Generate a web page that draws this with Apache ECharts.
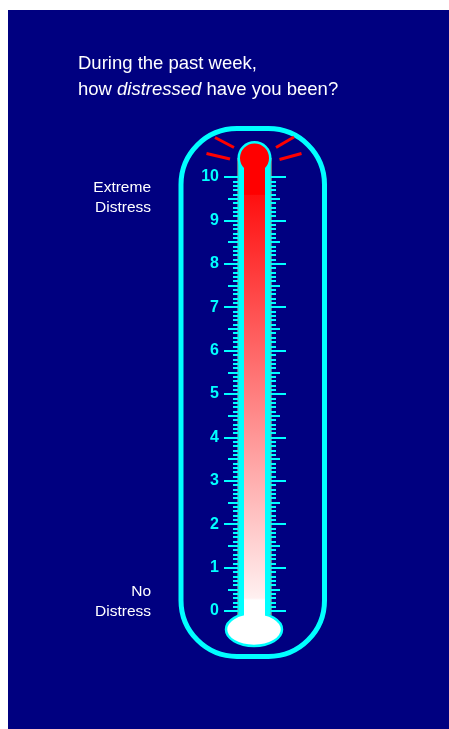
<!DOCTYPE html>
<html>
<head>
<meta charset="utf-8">
<script src="https://cdn.jsdelivr.net/npm/echarts@6/dist/echarts.min.js"></script>
<style>
  html, body { margin: 0; padding: 0; background: #fff; }
  #panel { position: absolute; left: 8px; top: 10px; width: 441px; height: 719px; background: #000080; }
  #chart { position: absolute; left: 0; top: 0; width: 449px; height: 729px; }
</style>
</head>
<body>
<div id="panel"></div>
<div id="chart"></div>
<script>
  // data
  var categories = ['Distress'];
  var distressLevel = [10];
  var scaleMin = 0;
  var scaleMax = 10;
  var questionLines = ['During the past week,', 'how ', 'distressed', ' have you been?'];
  var topLabel = ['Extreme', 'Distress'];
  var bottomLabel = ['No', 'Distress'];

  var CYAN = '#00ffff';
  var RED = '#ff0000';
  var FONT = '"Liberation Sans", Arial, sans-serif';

  var chart = echarts.init(document.getElementById('chart'));

  // one tick axis: major / half ticks (+ minor tenths)
  function tickAxis(side, interval, len, minorLen, labels) {
    return {
      type: 'value',
      position: side,
      min: scaleMin,
      max: scaleMax,
      interval: interval,
      z: 3,
      axisLine: { show: false },
      splitLine: { show: false },
      axisTick: { show: true, length: len, lineStyle: { color: CYAN, width: 2 } },
      minorTick: { show: minorLen > 0, splitNumber: 5, length: minorLen, lineStyle: { color: CYAN, width: 2 } },
      axisLabel: {
        show: labels,
        color: CYAN,
        fontWeight: 'bold',
        fontSize: 16,
        fontFamily: FONT,
        margin: 19
      }
    };
  }

  chart.setOption({
    animation: false,
    title: {
      left: 78,
      top: 51,
      padding: 0,
      text: '{n|' + questionLines[0] + '}\n{n|' + questionLines[1] + '}{i|' + questionLines[2] + '}{n|' + questionLines[3] + '}',
      textStyle: {
        fontWeight: 'normal',
        rich: {
          n: { color: '#fff', fontSize: 18.5, fontWeight: 'normal', fontFamily: FONT, lineHeight: 26 },
          i: { color: '#fff', fontSize: 18.5, fontWeight: 'normal', fontFamily: FONT, fontStyle: 'italic', lineHeight: 26 }
        }
      }
    },
    grid: { left: 238, right: 178, top: 177, bottom: 118 },
    xAxis: { type: 'category', data: categories, show: false },
    yAxis: [
      tickAxis('left', 1, 14, 0, true),
      tickAxis('left', 0.5, 10, 5, false),
      tickAxis('right', 1, 15, 0, false),
      tickAxis('right', 0.5, 9, 5, false)
    ],
    series: [{
      type: 'bar',
      data: distressLevel,
      barWidth: 21,
      z: 4,
      itemStyle: {
        color: new echarts.graphic.LinearGradient(0, 0, 0, 1, [
          { offset: 0, color: '#ff0000' },
          { offset: 0.04, color: '#ff0000' },
          { offset: 0.042, color: '#ff1010' },
          { offset: 0.97, color: '#fff0f0' },
          { offset: 0.975, color: '#ffffff' },
          { offset: 1, color: '#ffffff' }
        ])
      }
    }]
  });

  // thermometer body, placed from the axis scale
  var yTop = chart.convertToPixel({ yAxisIndex: 0 }, scaleMax);
  var yZero = chart.convertToPixel({ yAxisIndex: 0 }, scaleMin);
  var xc = chart.convertToPixel({ xAxisIndex: 0 }, categories[0]);
  var bulbY = yTop - 19;

  function ray(x1, y1, x2, y2) {
    return { type: 'line', z: 6, shape: { x1: xc + x1, y1: bulbY + y1, x2: xc + x2, y2: bulbY + y2 },
      style: { stroke: RED, lineWidth: 3 } };
  }
  function label(lines, x, y) {
    return lines.map(function (t, i) {
      return { type: 'text', z: 6, x: x, y: y + i * 20,
        style: { text: t, fill: '#fff', font: '15.5px ' + FONT, align: 'right', verticalAlign: 'middle' } };
    });
  }

  chart.setOption({
    graphic: [
      { type: 'rect', z: 1, shape: { x: xc - 73.5, y: yTop - 48.5, width: 143.5, height: yZero - yTop + 94, r: 56 },
        style: { fill: 'none', stroke: CYAN, lineWidth: 5 } },
      { type: 'rect', z: 2, shape: { x: xc - 16.75, y: bulbY, width: 33.5, height: yZero - bulbY + 4 },
        style: { fill: CYAN, stroke: '#7f7f7f', lineWidth: 1 } },
      { type: 'ellipse', z: 3, shape: { cx: xc - 0.5, cy: yZero + 18.5, rx: 28, ry: 16.5 },
        style: { fill: '#fff', stroke: CYAN, lineWidth: 2.5 } },
      { type: 'rect', z: 3, shape: { x: xc - 10.5, y: yZero - 1, width: 21, height: 8 },
        style: { fill: '#fff' } },
      { type: 'circle', z: 5, shape: { cx: xc, cy: bulbY, r: 17 }, style: { fill: CYAN } },
      { type: 'circle', z: 5, shape: { cx: xc, cy: bulbY, r: 14.5 }, style: { fill: RED } },
      { type: 'rect', z: 5, shape: { x: xc - 10.5, y: bulbY, width: 21, height: yTop - bulbY + 1 },
        style: { fill: RED } },
      ray(-39.5, -20.5, -20.5, -10.5),
      ray(-48, -4.5, -24.5, 1),
      ray(21.5, -10.5, 39.5, -21),
      ray(25, 1.5, 47, -4.5)
    ].concat(label(topLabel, 151, yTop + 10.5), label(bottomLabel, 151, yZero - 19.5))
  });
</script>
</body>
</html>
